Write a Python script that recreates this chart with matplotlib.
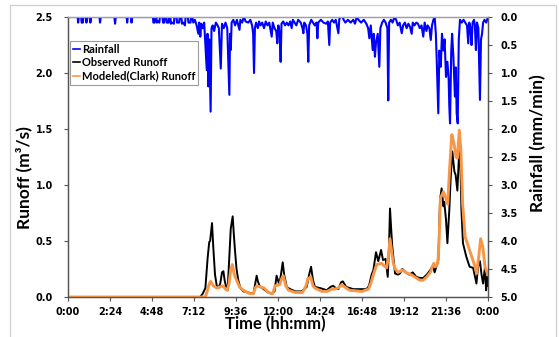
import matplotlib
matplotlib.use("Agg")
import matplotlib.pyplot as plt
from matplotlib.patches import Rectangle
from matplotlib.lines import Line2D

# ---------------- data (time in hours) ----------------
obs_hours = [0, 7.55, 7.7, 7.85, 7.98, 8.07, 8.12, 8.23, 8.3, 8.4, 8.5, 8.59, 8.7, 8.8, 8.88, 8.95,
             9.05, 9.12, 9.2, 9.3, 9.41, 9.48, 9.54, 9.63, 9.73, 9.85, 10.02, 10.3, 10.6, 10.7, 10.78,
             10.85, 10.97, 11.1, 11.26, 11.45, 11.64, 11.8, 11.92, 12.0, 12.07, 12.17, 12.27, 12.35,
             12.5, 12.7, 13.0, 13.35, 13.64, 13.78, 13.89, 14.0, 14.11, 14.4, 14.6, 14.78, 15.0, 15.15,
             15.3, 15.45, 15.6, 15.7, 15.9, 16.3, 16.78, 17.06, 17.2, 17.35, 17.45, 17.6, 17.73, 17.89,
             18.0, 18.15, 18.27, 18.34, 18.4, 18.47, 18.53, 18.69, 18.85, 18.97, 19.1, 19.3, 19.5,
             19.7, 19.9, 20.1, 20.3, 20.5, 20.7, 20.85, 20.95, 21.1, 21.16, 21.26, 21.35, 21.45, 21.5,
             21.6, 21.68, 21.79, 21.87, 21.96, 22.08, 22.15, 22.25, 22.33, 22.4, 22.48, 22.57, 22.76,
             22.95, 23.15, 23.34, 23.43, 23.54, 23.63, 23.72, 23.83, 23.89, 23.96, 24.0]
obs_runoff = [0, 0, 0.03, 0.08, 0.35, 0.49, 0.5, 0.66, 0.45, 0.2, 0.1, 0.08, 0.12, 0.22, 0.23, 0.15,
              0.08, 0.06, 0.3, 0.61, 0.72, 0.55, 0.42, 0.25, 0.15, 0.08, 0.05, 0.04, 0.03, 0.12, 0.19,
              0.14, 0.09, 0.08, 0.06, 0.04, 0.03, 0.05, 0.19, 0.15, 0.11, 0.2, 0.31, 0.2,
              0.09, 0.07, 0.05, 0.05, 0.09, 0.2, 0.27, 0.15, 0.09, 0.08, 0.07, 0.06, 0.09, 0.1,
              0.08, 0.07, 0.13, 0.14, 0.09, 0.07, 0.07, 0.07, 0.1, 0.2, 0.24, 0.40, 0.32, 0.42,
              0.33, 0.34, 0.18, 0.43, 0.79, 0.6, 0.45, 0.21, 0.2, 0.21, 0.25, 0.22, 0.2,
              0.22, 0.18, 0.17, 0.17, 0.2, 0.24, 0.28, 0.22, 0.3, 0.33, 0.87, 0.97, 0.81, 0.85,
              0.69, 0.48, 0.78, 1.07, 1.30, 1.12, 1.09, 0.95, 1.22, 1.38, 0.78, 0.48, 0.36,
              0.27, 0.26, 0.12, 0.27, 0.32, 0.2, 0.12, 0.27, 0.06, 0.18, 0.1]

mod_hours = [0, 7.85, 7.95, 8.08, 8.15, 8.3, 8.5, 8.7, 8.85, 9.0, 9.1, 9.2, 9.3, 9.39, 9.5, 9.64,
             9.8, 10.02, 10.4, 10.6, 10.7, 10.78, 11.0, 11.2, 11.45, 11.7, 11.83, 12.1, 12.2, 12.3,
             12.45, 12.6, 13.0, 13.4, 13.6, 13.7, 13.87, 14.0, 14.11, 14.5, 14.8, 15.07, 15.2, 15.45,
             15.64, 15.9, 16.1, 16.8, 17.17, 17.3, 17.45, 17.64, 17.92, 18.05, 18.21, 18.3, 18.4,
             18.5, 18.59, 18.7, 18.87, 19.1, 19.3, 19.6, 19.9, 20.1, 20.3, 20.5, 20.7, 20.9, 21.0,
             21.13, 21.2, 21.28, 21.45, 21.6, 21.7, 21.79, 21.93, 22.06, 22.17, 22.25, 22.36, 22.45,
             22.55, 22.69, 22.88, 23.07, 23.26, 23.35, 23.47, 23.58, 23.7, 23.83, 23.96, 24.0]
mod_runoff = [0, 0, 0.05, 0.12, 0.14, 0.1, 0.08, 0.09, 0.1, 0.07, 0.06, 0.12, 0.24, 0.29, 0.2, 0.15,
              0.09, 0.06, 0.03, 0.03, 0.08, 0.1, 0.09, 0.08, 0.04, 0.03, 0.1, 0.11, 0.16, 0.19,
              0.1, 0.06, 0.04, 0.04, 0.1, 0.16, 0.18, 0.1, 0.08, 0.05, 0.05, 0.07, 0.07, 0.08,
              0.11, 0.08, 0.06, 0.05, 0.07, 0.12, 0.2, 0.29, 0.3, 0.28, 0.26, 0.35, 0.52,
              0.4, 0.3, 0.25, 0.22, 0.24, 0.22, 0.2, 0.17, 0.15, 0.15, 0.18, 0.22, 0.3, 0.27,
              0.3, 0.48, 0.88, 0.94, 0.88, 0.83, 1.1, 1.45, 1.37, 1.25, 1.24, 1.49, 1.31,
              0.83, 0.54, 0.45, 0.36, 0.27, 0.21, 0.36, 0.52, 0.45, 0.27, 0.21, 0.2]

rain_hours = [0.00, 0.55, 0.58, 0.62, 0.75, 0.78, 0.85, 0.88, 1.02, 1.05, 1.12, 1.25, 1.28, 1.32,
              1.80, 1.83, 1.87, 2.65, 2.69, 2.73, 3.35, 3.38, 3.42, 3.60, 3.63, 3.67, 4.85, 4.88,
              4.95, 4.98, 5.05, 5.08, 5.15, 5.22, 5.25, 5.40, 5.43, 5.50, 5.53, 5.62, 5.65, 5.75,
              5.78, 5.85, 5.88, 5.95, 6.05, 6.08, 6.20, 6.23, 6.35, 6.38, 6.48, 6.51, 6.60, 6.68,
              6.72, 6.85, 6.88, 7.00, 7.03, 7.10, 7.16, 7.25, 7.35, 7.45, 7.50, 7.56, 7.62, 7.70,
              7.78, 7.85, 7.93, 7.97, 8.02, 8.07, 8.15, 8.20, 8.27, 8.35, 8.45, 8.55, 8.62, 8.73,
              8.80, 8.90, 9.00, 9.10, 9.22, 9.26, 9.30, 9.35, 9.45, 9.55, 9.65, 9.80, 9.85, 9.95,
              10.05, 10.15, 10.30, 10.42, 10.52, 10.58, 10.63, 10.68, 10.75, 10.85, 10.92, 11.00,
              11.10, 11.20, 11.30, 11.40, 11.50, 11.64, 11.70, 11.80, 11.90, 11.96, 12.02, 12.10,
              12.15, 12.20, 12.30, 12.40, 12.50, 12.60, 12.70, 12.78, 12.85, 12.95, 13.05, 13.15,
              13.30, 13.40, 13.45, 13.50, 13.60, 13.68, 13.73, 13.78, 13.90, 14.00, 14.10, 14.20,
              14.25, 14.30, 14.45, 14.60, 14.75, 14.85, 14.93, 14.98, 15.10, 15.20, 15.30, 15.45,
              15.50, 15.55, 15.70, 15.75, 15.85, 16.00, 16.15, 16.30, 16.40, 16.50, 16.60, 16.75,
              16.90, 17.05, 17.15, 17.22, 17.30, 17.41, 17.47, 17.54, 17.60, 17.70, 17.79, 17.85,
              17.95, 18.05, 18.15, 18.25, 18.30, 18.35, 18.45, 18.55, 18.65, 18.75, 18.85, 18.95,
              19.07, 19.15, 19.25, 19.35, 19.45, 19.55, 19.64, 19.70, 19.80, 19.90, 20.00, 20.10,
              20.20, 20.30, 20.38, 20.48, 20.55, 20.65, 20.73, 20.80, 20.88, 20.95, 21.02, 21.07,
              21.16, 21.22, 21.30, 21.37, 21.45, 21.52, 21.60, 21.68, 21.75, 21.79, 21.83, 21.90,
              21.95, 22.02, 22.11, 22.16, 22.21, 22.27, 22.33, 22.40, 22.50, 22.60, 22.70, 22.80,
              22.87, 22.93, 23.00, 23.06, 23.12, 23.20, 23.25, 23.31, 23.37, 23.45, 23.54, 23.60,
              23.66, 23.72, 23.80, 23.90, 24.00]
rain_mm = [0, 0, 0.1, 0, 0, 0.1, 0.1, 0, 0, 0.1, 0, 0, 0.1, 0,
           0, 0.1, 0, 0, 0.12, 0, 0, 0.1, 0, 0, 0.1, 0, 0, 0.1,
           0.1, 0, 0, 0.1, 0.08, 0.1, 0, 0, 0.1, 0.1, 0, 0, 0.1, 0.1,
           0, 0, 0.12, 0.1, 0.12, 0, 0, 0.1, 0.1, 0, 0, 0.12, 0.1, 0.15,
           0, 0, 0.1, 0.1, 0, 0, 0.1, 0.05, 0.15, 0.3, 0.1, 0.35, 0.12, 0.2,
           0.1, 0.5, 0.95, 0.3, 1.24, 0.4, 1.69, 0.2, 0.15, 0.25, 0.1, 0.15, 0.2, 0.92,
           0.12, 0.2, 0.1, 0.2, 1.39, 0.3, 0.59, 0.1, 0.05, 0.15, 0.05, 0.23, 0.05, 0.1,
           0, 0.08, 0.1, 0.05, 0.15, 0.3, 1.0, 0.2, 0.1, 0.2, 0.08, 0.15,
           0.1, 0.2, 0.08, 0.15, 0.1, 0.35, 0.1, 0.2, 0.25, 0.47, 0.15, 0.3,
           0.80, 0.12, 0.08, 0.15, 0.1, 0.15, 0.08, 0.2, 0.05, 0.1, 0.15, 0.05,
           0.1, 0.2, 0.29, 0.1, 0.15, 0.3, 0.80, 0.15, 0.05, 0.1, 0.15, 0.1,
           0.38, 0.1, 0.05, 0.1, 0.12, 0.08, 0.5, 0.1, 0.05, 0.1, 0.05, 0.29,
           0.05, 0, 0, 0.05, 0.1, 0.05, 0.1, 0.05, 0.12, 0, 0.05, 0.1,
           0.05, 0.12, 0.2, 0.38, 0.15, 0.59, 0.3, 0.71, 0.45, 0.3, 0.89, 0.2,
           0.1, 0.05, 0.1, 0.2, 1.49, 0.1, 0.05, 0.1, 0, 0.05, 0.15, 0.1,
           0.29, 0.15, 0.1, 0.2, 0.12, 0.18, 0.3, 0.1, 0.15, 0.1, 0.12, 0.2,
           0.15, 0.35, 0.1, 0.25, 0.15, 0.2, 0.41, 0.15, 0.05, 0, 0.3, 0.77,
           1.72, 0.6, 0.89, 0.3, 0.6, 0.4, 1.07, 0.8, 1.1, 1.6, 1.9, 0.6,
           0.3, 0.7, 1.42, 0.9, 1.72, 1.9, 0.4, 0.05, 0.1, 0.05, 0.1, 0.15,
           0.47, 0.1, 0.2, 0.5, 0.1, 0.05, 0.15, 0.59, 0.1, 0.2, 1.48, 0.4,
           0.3, 0.1, 0.05, 0.1, 0]

x_ticks = [0, 2.4, 4.8, 7.2, 9.6, 12.0, 14.4, 16.8, 19.2, 21.6, 24.0]
x_tick_labels = ["0:00", "2:24", "4:48", "7:12", "9:36", "12:00", "14:24", "16:48", "19:12", "21:36", "0:00"]
runoff_ticks = [0.0, 0.5, 1.0, 1.5, 2.0, 2.5]
rain_ticks = [0.0, 0.5, 1.0, 1.5, 2.0, 2.5, 3.0, 3.5, 4.0, 4.5, 5.0]

# ---------------- figure ----------------
W, H = 559, 337
fig = plt.figure(figsize=(W / 100, H / 100), dpi=100)
fig.patch.set_facecolor("white")
fig.patches.append(Rectangle((10 / W, -0.02), 546 / W, (1 - 5 / H) + 0.02, transform=fig.transFigure,
                             fill=False, edgecolor="#cfcfcf", linewidth=0.9))

L, R, T, B = 68, 488, 17, 297
ax = fig.add_axes([L / W, 1 - B / H, (R - L) / W, (B - T) / H])
ax2 = ax.twinx()

tick_font = dict(family="DejaVu Sans", weight="bold", size=7)
label_font = dict(family="Lato", weight="bold", size=12.5)

ax.plot(obs_hours, obs_runoff, color="black", lw=1.4, label="Observed Runoff", zorder=2)
ax.plot(mod_hours, mod_runoff, color="#F79646", lw=2.1, label="Modeled(Clark) Runoff", zorder=3)
ax2.plot(rain_hours, rain_mm, color="#0000FF", lw=1.5, label="Rainfall")

ax.set_xlim(0, 24)
ax.set_ylim(0, 2.5)
ax2.set_ylim(5, 0)

ax.set_xticks(x_ticks)
ax.set_xticklabels(x_tick_labels, **tick_font)
ax.set_yticks(runoff_ticks)
ax.set_yticklabels([f"{v:.1f}" for v in runoff_ticks], **tick_font)
ax2.set_yticks(rain_ticks)
ax2.set_yticklabels([f"{v:.1f}" for v in rain_ticks], **tick_font)

ax.tick_params(axis="both", direction="out", length=3, width=0.8, color="#555555", pad=4)
ax.tick_params(axis="y", pad=8)
ax2.tick_params(axis="y", direction="out", length=3, width=0.8, color="#555555", pad=6)

for a in (ax, ax2):
    for s in a.spines.values():
        s.set_color("#555555")
        s.set_linewidth(0.9)
    a.spines["top"].set_color("#a0a0a0")

ax.set_xlabel("Time (hh:mm)", fontsize=12, family="Lato", weight="bold")
ax.set_ylabel("Runoff (m³/s)", **label_font)
ax2.set_ylabel("Rainfall (mm/min)", **label_font)
ax.xaxis.set_label_coords(0.493, -0.066)
ax.yaxis.set_label_coords(-0.085, 0.425)
ax2.yaxis.set_label_coords(1.1, 0.55)

handles = [Line2D([], [], color="#0000FF", lw=1.2),
           Line2D([], [], color="black", lw=1.2),
           Line2D([], [], color="#F79646", lw=1.2)]
leg = ax2.legend(handles, ["Rainfall", "Observed Runoff", "Modeled(Clark) Runoff"],
                 loc="upper left", bbox_to_anchor=(0.005, 0.915), frameon=True, fancybox=False,
                 edgecolor="#9a9a9a", framealpha=1, handlelength=0.6, handletextpad=0.15,
                 borderpad=0.3, labelspacing=0.2, borderaxespad=0,
                 prop=dict(family="Lato", weight="bold", size=8))
leg.get_frame().set_linewidth(0.8)

fig.savefig("out.png", dpi=100)
